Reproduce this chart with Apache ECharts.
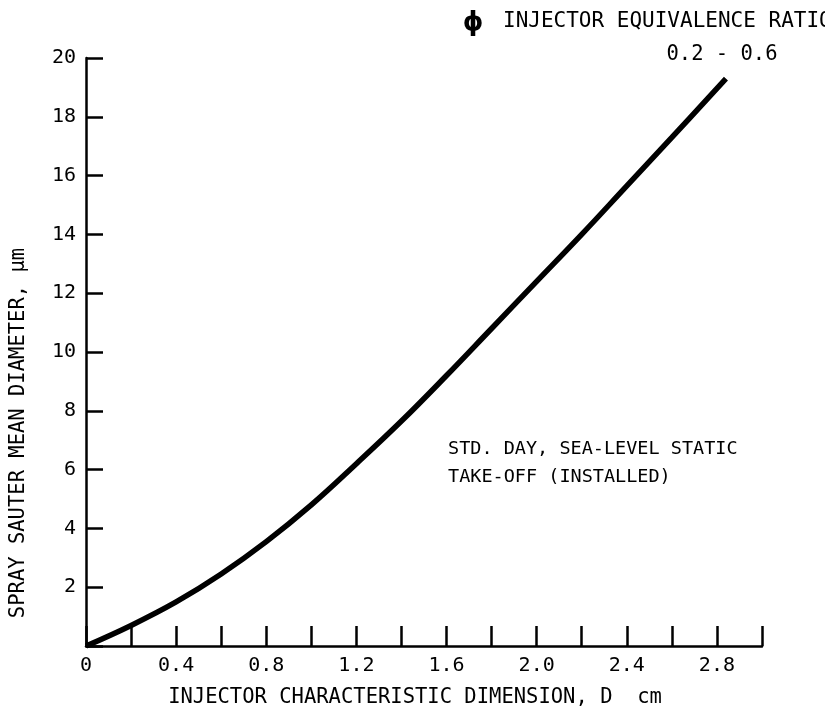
<!DOCTYPE html>
<html>
<head>
<meta charset="utf-8">
<script src="https://cdn.jsdelivr.net/npm/echarts@6/dist/echarts.min.js"></script>
<style>html,body{margin:0;padding:0;background:#fff;}#c{width:825px;height:716px;}</style>
</head>
<body>
<div id="c"></div>
<script>
// Data
var dimensionCm = [0, 0.2, 0.4, 0.6, 0.8, 1.0, 1.2, 1.4, 1.6, 1.8, 2.0, 2.2, 2.4, 2.6, 2.84];
var sauterDiameter = [0, 0.7, 1.5, 2.45, 3.55, 4.8, 6.2, 7.65, 9.2, 10.8, 12.4, 14.0, 15.65, 17.3, 19.3];
var xTickLabels = ['0', '0.4', '0.8', '1.2', '1.6', '2.0', '2.4', '2.8'];
var yTickLabels = ['2', '4', '6', '8', '10', '12', '14', '16', '18', '20'];

var FONT = 'DejaVu Sans Mono';
var chart = echarts.init(document.getElementById('c'), null, {renderer: 'canvas'});
var pts = dimensionCm.map(function (d, i) { return [d, sauterDiameter[i]]; });

function fmtX(v) {
  var s = (Math.round(v * 10) / 10);
  var str = s === 0 ? '0' : s.toFixed(1);
  return xTickLabels.indexOf(str) >= 0 ? str : '';
}
function fmtY(v) {
  var str = String(Math.round(v));
  return yTickLabels.indexOf(str) >= 0 ? str : '';
}

chart.setOption({
  animation: false,
  backgroundColor: '#fff',
  grid: {left: 86, right: 63, top: 58, bottom: 70, containLabel: false},
  xAxis: {
    type: 'value', min: 0, max: 3, interval: 0.2,
    axisLine: {show: true, lineStyle: {color: '#000', width: 2.5}},
    axisTick: {show: true, inside: true, length: 20, lineStyle: {color: '#000', width: 2.5}},
    splitLine: {show: false},
    axisLabel: {formatter: fmtX, color: '#000', fontFamily: FONT, fontSize: 20, margin: 10, showMaxLabel: true}
  },
  yAxis: {
    type: 'value', min: 0, max: 20, interval: 2,
    axisLine: {show: true, lineStyle: {color: '#000', width: 2.5}},
    axisTick: {show: true, inside: true, length: 17, lineStyle: {color: '#000', width: 2.5}},
    splitLine: {show: false},
    axisLabel: {formatter: fmtY, color: '#000', fontFamily: FONT, fontSize: 20, margin: 10}
  },
  series: [{
    type: 'line', data: pts, smooth: 0.4, showSymbol: false,
    lineStyle: {color: '#000', width: 5.5}
  }],
  graphic: [
    {type: 'text', style: {text: 'SPRAY SAUTER MEAN DIAMETER, \u03bcm', x: 0, y: 0, textAlign: 'center', textVerticalAlign: 'middle', fill: '#000', font: '20.5px "' + FONT + '"'}, x: 19, y: 433, rotation: Math.PI / 2},
    {type: 'text', style: {text: 'INJECTOR CHARACTERISTIC DIMENSION, D  cm', x: 415, y: 698, textAlign: 'center', textVerticalAlign: 'middle', fill: '#000', font: '20.5px "' + FONT + '"'}},
    {type: 'text', style: {text: '\u03d5', x: 473, y: 23, textAlign: 'center', textVerticalAlign: 'middle', fill: '#000', font: 'bold 26px "DejaVu Sans"'}},
    {type: 'text', style: {text: 'INJECTOR EQUIVALENCE RATIO', x: 503, y: 22, textAlign: 'left', textVerticalAlign: 'middle', fill: '#000', font: '21px "' + FONT + '"'}},
    {type: 'text', style: {text: '0.2 - 0.6', x: 722, y: 55, textAlign: 'center', textVerticalAlign: 'middle', fill: '#000', font: '20.5px "' + FONT + '"'}},
    {type: 'text', style: {text: 'STD. DAY, SEA-LEVEL STATIC', x: 448, y: 449, textAlign: 'left', textVerticalAlign: 'middle', fill: '#000', font: '18.5px "' + FONT + '"'}},
    {type: 'text', style: {text: 'TAKE-OFF (INSTALLED)', x: 448, y: 477, textAlign: 'left', textVerticalAlign: 'middle', fill: '#000', font: '18.5px "' + FONT + '"'}}
  ]
});
</script>
</body>
</html>
